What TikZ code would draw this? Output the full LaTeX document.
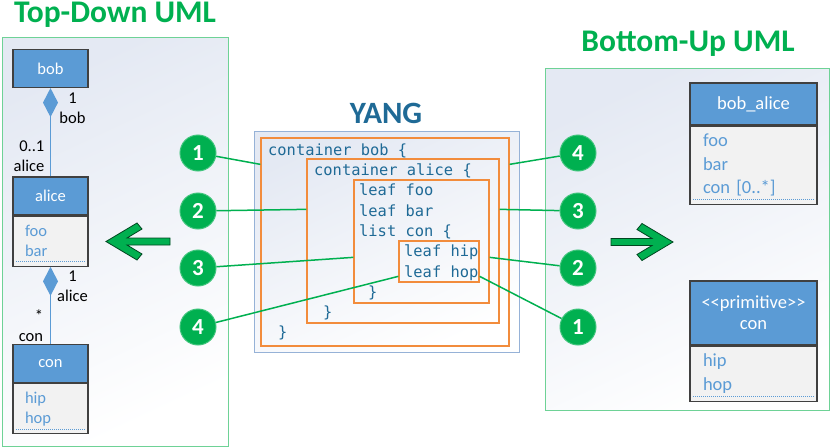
\documentclass[tikz,border=0pt]{standalone}
\usepackage{fontspec}
\setmainfont{Carlito}
\setmonofont{DejaVu Sans Mono}
\usetikzlibrary{positioning,calc,arrows.meta}

\definecolor{umlblue}{RGB}{91,155,213}
\definecolor{umlgreen}{RGB}{0,176,80}
\definecolor{yangblue}{RGB}{31,106,150}
\definecolor{yangorange}{RGB}{242,140,60}
\definecolor{boxgray}{RGB}{242,242,242}
\definecolor{framegreen}{RGB}{110,210,150}
\definecolor{panelblue}{RGB}{228,233,243}
\definecolor{yangframe}{RGB}{150,178,215}

\tikzset{
  panel/.style={draw=framegreen, line width=1pt, top color=panelblue, bottom color=white, shading angle=25},
  hdr/.style={draw=black!75, line width=1.2pt, fill=umlblue, text=white, minimum width=75, minimum height=38, inner sep=0pt, align=center, font=\fontsize{16.5}{20}\selectfont},
  fld/.style={draw=black!75, line width=1.2pt, fill=boxgray, text=umlblue, minimum width=75, minimum height=50, inner xsep=12pt, inner ysep=0pt, text width=51pt, align=left, font=\fontsize{16.5}{20}\selectfont,
    path picture={\draw[umlblue, line width=0.7pt, dash pattern=on 1.2pt off 0.8pt] ([xshift=3pt,yshift=4.5pt]path picture bounding box.south west) -- ([xshift=-3pt,yshift=4.5pt]path picture bounding box.south east);}},
  bigbox/.style={minimum width=127, font=\fontsize{18.5}{23.5}\selectfont},
  bigfld/.style={minimum width=127, inner xsep=13pt, text width=101pt, font=\fontsize{18.5}{23.5}\selectfont},
  assoc/.style={umlblue, line width=1.5pt, -{Diamond[width=15pt,length=29pt]}},
  role/.style={inner sep=0pt, font=\fontsize{16.5}{20}\selectfont},
  num/.style={circle, fill=umlgreen, draw=umlgreen!75, line width=1pt, minimum size=36, inner sep=0pt, text=white, font=\bfseries\fontsize{23}{23}\selectfont},
  link/.style={umlgreen, line width=1.5pt},
  title/.style={anchor=base, text=umlgreen, font=\bfseries\fontsize{31.5}{32}\selectfont},
  yframe/.style={draw=yangframe, line width=1pt, top color=panelblue, bottom color=white, shading angle=25, inner sep=0pt},
  ybox/.style={draw=yangorange, line width=1.3pt, inner sep=0pt},
  code/.style={anchor=base west, inner sep=0pt, text=yangblue, font=\ttfamily\fontsize{15.4}{18}\selectfont},
  bigarrow/.style={fill=umlgreen, draw=black!60!umlgreen, line width=0.8pt, line join=miter}
}

\begin{document}
\begin{tikzpicture}[x=1pt,y=-1pt]
\useasboundingbox (0,0) rectangle (831,447);

% panels and titles
\node[panel, minimum width=226, minimum height=409] (tdpanel) at (115,241.5) {};
\node[panel, minimum width=284, minimum height=342] (bupanel) at (687,239) {};
\node[title] (tdtitle) at (115,22) {Top-Down UML};
\node[title] (butitle) at (688,52) {Bottom-Up UML};
\node[title, text=yangblue, font=\bfseries\fontsize{31}{32}\selectfont] (yangtitle) at (386,123) {YANG};

% top-down classes
\node[hdr] (bob) at (50.5,68.5) {bob};
\node[hdr] (alice) at (50.5,196) {alice};
\node[fld, below=0pt of alice] (alicefld) {foo\\bar};
\node[hdr] (con) at (50.5,363.5) {con};
\node[fld, below=0pt of con] (confld) {hip\\hop};

\draw[assoc] (alice) -- (bob);
\draw[assoc] (con) -- (alicefld);

\node[role, align=center] (bobend) at (72.5,108.5) {1\\bob};
\node[role, align=right] (aliceend) at (29,156) {0..1\\alice};
\node[role, align=center] (aliceown) at (72.5,286.5) {1\\alice};
\node[role, align=right] (conend) at (31,326) {*\\con};

% bottom-up classes
\node[hdr, bigbox, minimum height=42] (bobalice) at (753.5,104) {bob\_alice};
\node[fld, bigfld, below=0pt of bobalice, minimum height=78] (bobalicefld) {foo\\bar\\con [0..*]};
\node[hdr, bigbox, minimum height=64, font=\fontsize{18.5}{21}\selectfont] (primcon) at (753.5,313) {<{}<primitive>{}>\\con};
\node[fld, bigfld, below=0pt of primcon, minimum height=55] (primconfld) {hip\\hop};

% yang
\node[yframe, minimum width=265, minimum height=221] (yang) at (386.5,241.5) {};
\node[ybox, minimum width=248, minimum height=208] (ybob) at (385,242) {};
\node[ybox, minimum width=192, minimum height=164] (yalice) at (403,241) {};
\node[ybox, minimum width=135, minimum height=123] (ylist) at (421.5,241.5) {};
\node[ybox, minimum width=80, minimum height=41] (yhip) at (439,261.5) {};

\node[code] (c1) at (268,155) {container bob \{};
\node[code] (c2) at (314,175.5) {container alice \{};
\node[code] (c3) at (359,195.5) {leaf foo};
\node[code] (c4) at (359,216) {leaf bar};
\node[code] (c5) at (359,236) {list con \{};
\node[code] (c6) at (404,256.5) {leaf hip};
\node[code] (c7) at (404,277) {leaf hop};
\node[code] (c8) at (368,297) {\}};
\node[code] (c9) at (323,317) {\}};
\node[code] (c10) at (278,337) {\}};

% numbers
\node[num] (l1) at (198,153) {1};
\node[num] (l2) at (198,211) {2};
\node[num] (l3) at (198,268) {3};
\node[num] (l4) at (198,327) {4};
\node[num] (r4) at (578,153) {4};
\node[num] (r3) at (578,211) {3};
\node[num] (r2) at (578,268) {2};
\node[num] (r1) at (578,327) {1};

\coordinate (e1l) at ($(ybob.north west)+(0,27)$);
\coordinate (e2l) at ($(yalice.north west)+(0,51)$);
\coordinate (e3l) at ($(ylist.north west)+(0,78)$);
\coordinate (e4l) at ($(yhip.north west)+(0,36)$);
\coordinate (e1r) at ($(yhip.north east)+(0,36)$);
\coordinate (e2r) at ($(ylist.north east)+(0,78)$);
\coordinate (e3r) at ($(yalice.north east)+(0,51)$);
\coordinate (e4r) at ($(ybob.north east)+(0,27)$);

\draw[link] (l1) -- (e1l);
\draw[link] (l2) -- (e2l);
\draw[link] (l3) -- (e3l);
\draw[link] (l4) -- (e4l);
\draw[link] (r1) -- (e1r);
\draw[link] (r2) -- (e2r);
\draw[link] (r3) -- (e3r);
\draw[link] (r4) -- (e4r);

% arrows
\draw[bigarrow] (106,241.5) -- (137,223) -- (142,229) -- (127,238) -- (170,238) -- (170,245) -- (127,245) -- (142,254) -- (137,260) -- cycle;
\draw[bigarrow] (673,242) -- (642,223.5) -- (637,229.5) -- (652,238.5) -- (611,238.5) -- (611,245.5) -- (652,245.5) -- (637,254.5) -- (642,260.5) -- cycle;
\end{tikzpicture}
\end{document}
